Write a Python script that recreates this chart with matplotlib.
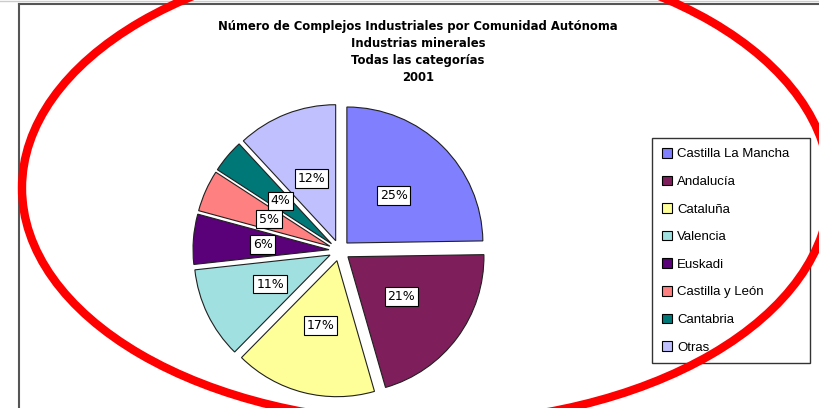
import matplotlib
matplotlib.use("Agg")
import matplotlib.pyplot as plt
from matplotlib.patches import Ellipse
from matplotlib.lines import Line2D

categories = ["Castilla La Mancha", "Andalucía", "Cataluña", "Valencia",
              "Euskadi", "Castilla y León", "Cantabria", "Otras"]
values = [25, 21, 17, 11, 6, 5, 4, 12]
colors = ["#8080FF", "#7E1F5C", "#FFFF99", "#A0E0E0",
          "#5A0078", "#FF8080", "#007878", "#C0C0FF"]
title_lines = ["Número de Complejos Industriales por Comunidad Autónoma",
               "Industrias minerales", "Todas las categorías", "2001"]

W, H = 820, 408
fig = plt.figure(figsize=(W / 100, H / 100), dpi=100)
fig.patch.set_facecolor("white")
ax = fig.add_axes([0, 0, 1, 1])

R = 136
cx, cy = 339.5, H - 250.5
wedges, texts, autotexts = ax.pie(
    values, colors=colors, startangle=90, counterclock=False,
    explode=[10.5] * len(values), radius=R, center=(cx, cy),
    autopct="%.0f%%", pctdistance=0.49,
    wedgeprops=dict(edgecolor="#202020", linewidth=0.8),
    textprops=dict(fontsize=9, family="DejaVu Sans"))
for t in autotexts:
    t.set_bbox(dict(boxstyle="square,pad=0.22", facecolor="white",
                    edgecolor="black", linewidth=0.8))

ax.set_xlim(0, W)
ax.set_ylim(0, H)
ax.set_aspect("auto")
ax.axis("off")

# frame of the chart area
ax.add_line(Line2D([19, 19], [0, H - 4], color="#555555", linewidth=1.5))
ax.add_line(Line2D([19, W], [H - 4, H - 4], color="#555555", linewidth=1.5))
ax.add_line(Line2D([0, W], [H - 0.5, H - 0.5], color="#cccccc", linewidth=1))

ax.text(418, H - 52, "\n".join(title_lines), ha="center", va="center",
        fontsize=8.4, fontweight="bold", family="DejaVu Sans", linespacing=1.42)

leg = ax.legend(wedges, categories, loc="upper left",
                bbox_to_anchor=(652 / W, 1 - 363 / H, 158 / W, 225 / H),
                mode="expand",
                prop=dict(family="Liberation Sans", size=9.5),
                frameon=True, fancybox=False, edgecolor="black",
                handlelength=0.75, handleheight=0.75, handletextpad=0.4,
                labelspacing=1.15, borderpad=0.75, borderaxespad=0)
leg.get_frame().set_linewidth(1.0)
for h in leg.legend_handles:
    h.set_edgecolor("black")
    h.set_linewidth(0.8)

ax.add_patch(Ellipse((426, H - 188), 808, 470, fill=False,
                     edgecolor="#FF0000", linewidth=6, zorder=10))

fig.savefig("out.png", dpi=100)
